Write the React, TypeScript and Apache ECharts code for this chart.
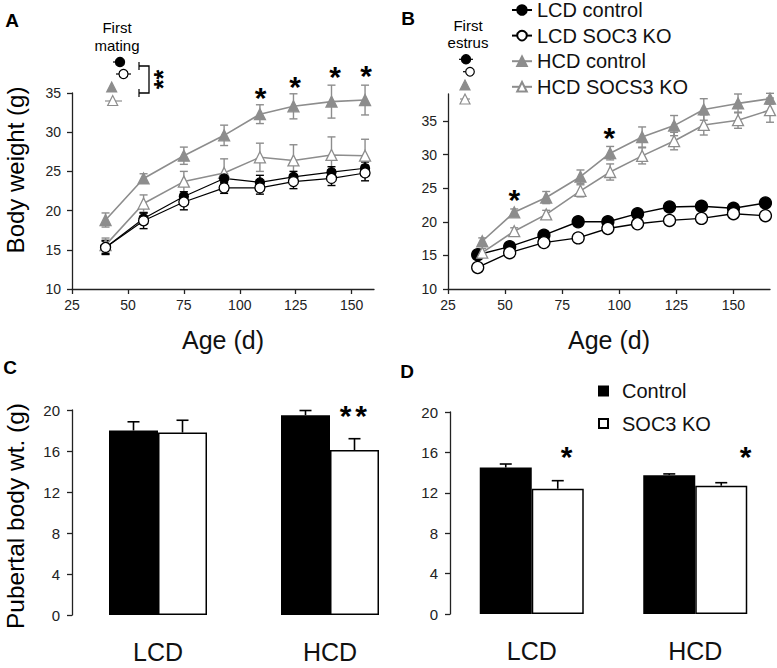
import React, { useEffect, useRef } from "react";
import * as echarts from "echarts";

// ---------- Panel A: body weight vs age (first mating) ----------
const A_AGE = [40, 57, 75, 93, 109, 124, 141, 156];
const A_LCD_CTRL = [15.3, 19.0, 21.8, 24.1, 23.6, 24.3, 24.9, 25.4];
const A_LCD_CTRL_ERR = [0.8, 0.7, 0.6, 0.6, 0.9, 0.7, 0.7, 0.8];
const A_LCD_KO = [15.3, 18.7, 21.1, 22.9, 22.9, 23.7, 24.1, 24.8];
const A_LCD_KO_ERR = [0.9, 1.0, 1.0, 0.7, 0.8, 0.9, 0.9, 1.0];
const A_HCD_CTRL = [18.8, 24.1, 27.0, 29.6, 32.3, 33.3, 33.9, 34.1];
const A_HCD_CTRL_ERR = [0.9, 0.6, 1.1, 1.3, 1.2, 1.6, 2.1, 1.9];
const A_HCD_KO = [15.6, 20.9, 23.7, 24.8, 26.8, 26.4, 27.1, 27.0];
const A_HCD_KO_ERR = [0.9, 1.1, 1.3, 1.8, 1.8, 2.0, 2.3, 2.1];

// ---------- Panel B: body weight vs age (first estrus) ----------
const B_LCD_AGE = [38, 52, 67, 82, 95, 108, 122, 136, 150, 164];
const B_LCD_CTRL = [15.1, 16.3, 18.0, 20.0, 20.0, 21.2, 22.2, 22.3, 22.0, 22.8];
const B_LCD_KO = [13.2, 15.4, 16.9, 17.6, 19.0, 19.7, 20.2, 20.5, 21.2, 20.9];
const B_HCD_AGE = [40, 54, 68, 83, 96, 110, 124, 137, 152, 166];
const B_HCD_CTRL = [17.1, 21.4, 23.6, 26.7, 30.2, 32.6, 34.3, 36.7, 37.6, 38.3];
const B_HCD_CTRL_ERR = [0.5, 0.5, 0.9, 1.0, 1.0, 1.5, 1.5, 1.6, 1.4, 0.8];
const B_HCD_KO = [15.4, 18.6, 21.1, 24.6, 27.4, 29.8, 32.0, 34.4, 35.1, 36.6];
const B_HCD_KO_ERR = [0.6, 0.5, 0.6, 0.9, 1.2, 1.2, 1.3, 1.5, 1.2, 1.8];

const AGE_TICKS = [25, 50, 75, 100, 125, 150];
const B_WEIGHT_TICKS = [10, 15, 20, 25, 30, 35];

// ---------- Panels C & D: pubertal body weight ----------
const DIETS = ["LCD", "HCD"];
const C_CTRL = [18.0, 19.5];
const C_CTRL_ERR = [0.85, 0.45];
const C_KO = [17.8, 16.1];
const C_KO_ERR = [1.2, 1.1];
const D_CTRL = [14.5, 13.75];
const D_CTRL_ERR = [0.35, 0.12];
const D_KO = [12.4, 12.7];
const D_KO_ERR = [0.8, 0.3];

const SERIES_NAMES = ["LCD control", "LCD SOC3 KO", "HCD control", "HCD SOCS3 KO"];
const BAR_NAMES = ["Control", "SOC3 KO"];

const FONT = "'Liberation Sans', Arial, Helvetica, sans-serif";
const GRAY = "#8d8d8d";
const INK = "#111";
const BW_C = 49;
const BW_D = 52;

function pairs(xs: number[], ys: number[]) {
  return xs.map((x, i) => [x, ys[i]]);
}
function triples(xs: number[], ys: number[], es: number[]) {
  return xs.map((x, i) => [x, ys[i], es[i]]);
}

function errRender(color: string, cap: number) {
  return (_p: any, api: any) => {
    const x = api.value(0);
    const y = api.value(1);
    const e = api.value(2);
    const hi = api.coord([x, y + e]);
    const lo = api.coord([x, y - e]);
    const st = { stroke: color, lineWidth: 1.4 };
    return {
      type: "group",
      children: [
        { type: "line", shape: { x1: hi[0], y1: hi[1], x2: lo[0], y2: lo[1] }, style: st },
        { type: "line", shape: { x1: hi[0] - cap, y1: hi[1], x2: hi[0] + cap, y2: hi[1] }, style: st },
        { type: "line", shape: { x1: lo[0] - cap, y1: lo[1], x2: lo[0] + cap, y2: lo[1] }, style: st },
      ],
    };
  };
}

function barErrRender(bw: number) {
  return (_p: any, api: any) => {
    const i = api.value(0);
    const v = api.value(1);
    const e = api.value(2);
    const side = api.value(3);
    const base = api.coord([i, v]);
    const top = api.coord([i, v + e]);
    const x = base[0] + (side * bw) / 2;
    const st = { stroke: "#000", lineWidth: 1.6 };
    return {
      type: "group",
      children: [
        { type: "line", shape: { x1: x, y1: base[1], x2: x, y2: top[1] }, style: st },
        { type: "line", shape: { x1: x - 6, y1: top[1], x2: x + 6, y2: top[1] }, style: st },
      ],
    };
  };
}

function barErrData(vals: number[], errs: number[], side: number) {
  return vals.map((v, i) => [i, v, errs[i], side]);
}

const axisLineStyle = { lineStyle: { color: "#222", width: 1.3 } };
const tickStyle = { length: 5, lineStyle: { color: "#222", width: 1.3 } };
const labelStyle = { color: "#222", fontSize: 14, fontFamily: FONT };

function txt(text: string, x: number, y: number, size: number, extra: any = {}) {
  return {
    type: "text",
    x,
    y,
    style: {
      text,
      fontSize: size,
      fontFamily: FONT,
      fill: "#000",
      align: "center",
      verticalAlign: "middle",
      ...(extra.style || {}),
    },
    ...(extra.el || {}),
  };
}

function star(x: number, y: number, size = 30) {
  // asterisk glyph sits high in the em box; shift down so its centre lands at y
  return txt("*", x, y + size * 0.2, size, { style: { fontWeight: "bold" } });
}

function tri(cx: number, cy: number, s: number, fill: string, stroke: string) {
  const h = s * 0.9;
  return {
    type: "polygon",
    shape: {
      points: [
        [cx, cy - h / 2 - 1],
        [cx - s / 2, cy + h / 2],
        [cx + s / 2, cy + h / 2],
      ],
    },
    style: { fill, stroke, lineWidth: 1.2 },
  };
}
function seg(x1: number, y1: number, x2: number, y2: number, color = "#000") {
  return { type: "line", shape: { x1, y1, x2, y2 }, style: { stroke: color, lineWidth: 1.2 } };
}
function dot(cx: number, cy: number, r: number, fill: string, stroke: string) {
  return { type: "circle", shape: { cx, cy, r }, style: { fill, stroke, lineWidth: 1.2 } };
}

export default function App() {
  const ref = useRef<HTMLDivElement>(null);

  useEffect(() => {
    if (!ref.current) return;
    const chart = echarts.init(ref.current, undefined, { renderer: "svg" });

    const lineSeries = (
      name: string,
      xi: number,
      xs: number[],
      ys: number[],
      color: string,
      symbol: string,
      size: number,
      filled: boolean,
      lw: number
    ) => ({
      type: "line",
      name,
      xAxisIndex: xi,
      yAxisIndex: xi,
      data: pairs(xs, ys),
      symbol,
      symbolSize: size,
      showAllSymbol: true,
      lineStyle: { color, width: lw },
      itemStyle: { color: filled ? color : "#fff", borderColor: color, borderWidth: 1.3 },
      z: 5,
    });

    const errSeries = (xi: number, xs: number[], ys: number[], es: number[], color: string) => ({
      type: "custom",
      name: "err",
      xAxisIndex: xi,
      yAxisIndex: xi,
      coordinateSystem: "cartesian2d",
      clip: false,
      data: triples(xs, ys, es),
      encode: { x: 0, y: 1 },
      renderItem: errRender(color, 4),
      z: 3,
    });

    const option: any = {
      animation: false,
      backgroundColor: "#fff",
      textStyle: { fontFamily: FONT },
      grid: [
        { left: 72, top: 93, width: 302, height: 196 },
        { left: 448, top: 94, width: 322, height: 195 },
        { left: 72, top: 410, width: 344, height: 205 },
        { left: 450, top: 412, width: 360, height: 202 },
      ],
      xAxis: [
        {
          type: "value",
          gridIndex: 0,
          min: 25,
          max: 160,
          axisLine: axisLineStyle,
          axisTick: { ...tickStyle, customValues: AGE_TICKS },
          axisLabel: { ...labelStyle, margin: 9, customValues: AGE_TICKS },
          splitLine: { show: false },
          name: "Age (d)",
          nameLocation: "middle",
          nameGap: 38,
          nameTextStyle: { fontSize: 25, color: INK, fontFamily: FONT },
        },
        {
          type: "value",
          gridIndex: 1,
          min: 25,
          max: 166,
          axisLine: axisLineStyle,
          axisTick: { ...tickStyle, customValues: AGE_TICKS },
          axisLabel: { ...labelStyle, margin: 9, customValues: AGE_TICKS },
          splitLine: { show: false },
          name: "Age (d)",
          nameLocation: "middle",
          nameGap: 38,
          nameTextStyle: { fontSize: 25, color: INK, fontFamily: FONT },
        },
        {
          type: "category",
          gridIndex: 2,
          data: DIETS,
          axisLine: { show: false },
          axisTick: { show: false },
          axisLabel: { color: INK, fontSize: 25, fontFamily: FONT, margin: 24 },
        },
        {
          type: "category",
          gridIndex: 3,
          data: DIETS,
          axisLine: { show: false },
          axisTick: { show: false },
          axisLabel: { color: INK, fontSize: 25, fontFamily: FONT, margin: 24 },
        },
      ],
      yAxis: [
        {
          type: "value",
          gridIndex: 0,
          min: 10,
          max: 35,
          interval: 5,
          axisLine: { show: true, ...axisLineStyle },
          axisTick: { show: true, ...tickStyle },
          axisLabel: { ...labelStyle, margin: 11 },
          splitLine: { show: false },
        },
        {
          type: "value",
          gridIndex: 1,
          min: 10,
          max: 39,
          axisLine: { show: true, ...axisLineStyle },
          axisTick: { show: true, ...tickStyle, customValues: B_WEIGHT_TICKS },
          axisLabel: { ...labelStyle, margin: 11, customValues: B_WEIGHT_TICKS },
          splitLine: { show: false },
        },
        {
          type: "value",
          gridIndex: 2,
          min: 0,
          max: 20,
          interval: 4,
          axisLine: { show: true, ...axisLineStyle },
          axisTick: { show: true, ...tickStyle },
          axisLabel: { ...labelStyle, fontSize: 15, margin: 12 },
          splitLine: { show: false },
        },
        {
          type: "value",
          gridIndex: 3,
          min: 0,
          max: 20,
          interval: 4,
          axisLine: { show: true, ...axisLineStyle },
          axisTick: { show: true, ...tickStyle },
          axisLabel: { ...labelStyle, fontSize: 15, margin: 12 },
          splitLine: { show: false },
        },
      ],
      legend: [
        {
          data: SERIES_NAMES,
          orient: "vertical",
          left: 511,
          top: 0,
          padding: 0,
          itemWidth: 20,
          itemHeight: 12,
          itemGap: 5.6,
          selectedMode: false,
          textStyle: { fontSize: 20, lineHeight: 20, color: INK, fontFamily: FONT },
        },
        {
          data: BAR_NAMES.map((n) => ({ name: n, icon: "rect" })),
          orient: "vertical",
          left: 598,
          top: 381,
          padding: 0,
          itemWidth: 9,
          itemHeight: 9,
          itemGap: 12.5,
          selectedMode: false,
          textStyle: { fontSize: 20, lineHeight: 20, color: INK, fontFamily: FONT, padding: [0, 0, 0, 9] },
        },
      ],
      series: [
        // Panel B
        errSeries(1, B_HCD_AGE, B_HCD_CTRL, B_HCD_CTRL_ERR, GRAY),
        errSeries(1, B_HCD_AGE, B_HCD_KO, B_HCD_KO_ERR, GRAY),
        lineSeries(SERIES_NAMES[0], 1, B_LCD_AGE, B_LCD_CTRL, "#000", "circle", 12, true, 1.4),
        lineSeries(SERIES_NAMES[1], 1, B_LCD_AGE, B_LCD_KO, "#000", "circle", 12, false, 1.4),
        lineSeries(SERIES_NAMES[2], 1, B_HCD_AGE, B_HCD_CTRL, GRAY, "triangle", 11, true, 1.6),
        lineSeries(SERIES_NAMES[3], 1, B_HCD_AGE, B_HCD_KO, GRAY, "triangle", 11, false, 1.6),
        // Panel A
        errSeries(0, A_AGE, A_HCD_CTRL, A_HCD_CTRL_ERR, GRAY),
        errSeries(0, A_AGE, A_HCD_KO, A_HCD_KO_ERR, GRAY),
        errSeries(0, A_AGE, A_LCD_CTRL, A_LCD_CTRL_ERR, "#000"),
        errSeries(0, A_AGE, A_LCD_KO, A_LCD_KO_ERR, "#000"),
        lineSeries(SERIES_NAMES[2], 0, A_AGE, A_HCD_CTRL, GRAY, "triangle", 11, true, 1.6),
        lineSeries(SERIES_NAMES[3], 0, A_AGE, A_HCD_KO, GRAY, "triangle", 11, false, 1.6),
        lineSeries(SERIES_NAMES[0], 0, A_AGE, A_LCD_CTRL, "#000", "circle", 9, true, 1.2),
        lineSeries(SERIES_NAMES[1], 0, A_AGE, A_LCD_KO, "#000", "circle", 10, false, 1.2),
        // Panel C
        {
          type: "bar",
          name: BAR_NAMES[0],
          xAxisIndex: 2,
          yAxisIndex: 2,
          data: C_CTRL,
          barWidth: BW_C,
          barGap: "0%",
          itemStyle: { color: "#000", borderColor: "#000", borderWidth: 1.5 },
        },
        {
          type: "bar",
          name: BAR_NAMES[1],
          xAxisIndex: 2,
          yAxisIndex: 2,
          data: C_KO,
          barWidth: BW_C,
          barGap: "0%",
          itemStyle: { color: "#fff", borderColor: "#000", borderWidth: 1.5 },
        },
        {
          type: "custom",
          name: "errC",
          xAxisIndex: 2,
          yAxisIndex: 2,
          coordinateSystem: "cartesian2d",
          clip: false,
          data: [...barErrData(C_CTRL, C_CTRL_ERR, -1), ...barErrData(C_KO, C_KO_ERR, 1)],
          encode: { x: 0, y: 1 },
          renderItem: barErrRender(BW_C),
          z: 4,
        },
        // Panel D
        {
          type: "bar",
          name: BAR_NAMES[0],
          xAxisIndex: 3,
          yAxisIndex: 3,
          data: D_CTRL,
          barWidth: BW_D,
          barGap: "0%",
          itemStyle: { color: "#000", borderColor: "#000", borderWidth: 1.5 },
        },
        {
          type: "bar",
          name: BAR_NAMES[1],
          xAxisIndex: 3,
          yAxisIndex: 3,
          data: D_KO,
          barWidth: BW_D,
          barGap: "0%",
          itemStyle: { color: "#fff", borderColor: "#000", borderWidth: 1.5 },
        },
        {
          type: "custom",
          name: "errD",
          xAxisIndex: 3,
          yAxisIndex: 3,
          coordinateSystem: "cartesian2d",
          clip: false,
          data: [...barErrData(D_CTRL, D_CTRL_ERR, -1), ...barErrData(D_KO, D_KO_ERR, 1)],
          encode: { x: 0, y: 1 },
          renderItem: barErrRender(BW_D),
          z: 4,
        },
      ],
      graphic: [
        // panel letters
        txt("A", 12, 20, 19, { style: { fontWeight: "bold" } }),
        txt("B", 408, 18, 19, { style: { fontWeight: "bold" } }),
        txt("C", 10, 367, 19, { style: { fontWeight: "bold" } }),
        txt("D", 407, 371, 19, { style: { fontWeight: "bold" } }),
        // y-axis titles
        txt("Body weight (g)", 15, 170, 24, { el: { rotation: Math.PI / 2 } }),
        txt("Pubertal body wt. (g)", 15, 516, 24.5, { el: { rotation: Math.PI / 2 } }),
        // First mating key
        txt("First", 117, 27, 15),
        txt("mating", 117, 45, 15),
        seg(113, 62, 120, 62),
        dot(120, 62, 4.6, "#000", "#000"),
        seg(116, 74, 131, 74),
        dot(123.5, 74, 4.5, "#fff", "#000"),
        tri(111.7, 87.5, 10, GRAY, GRAY),
        seg(105, 101, 122, 101, GRAY),
        tri(112.7, 101, 10, "#fff", GRAY),
        {
          type: "polyline",
          shape: { points: [[139, 66], [149, 66], [149, 93], [139, 93]] },
          style: { stroke: "#000", lineWidth: 1.3, fill: "none" },
        },
        seg(139, 62, 139, 70),
        seg(139, 89, 139, 97),
        // stacked pair of asterisks, drawn as one vertical "**"
        txt("**", 163, 79.5, 25, { style: { fontWeight: "bold" }, el: { rotation: Math.PI / 2 } }),
        // First estrus key
        txt("First", 468, 25, 15),
        txt("estrus", 468, 42, 15),
        seg(459, 59.3, 473, 59.3),
        dot(466, 59.3, 4.6, "#000", "#000"),
        seg(463, 71.7, 467, 71.7),
        dot(470, 71.7, 4.3, "#fff", "#000"),
        tri(465, 85.5, 10, GRAY, GRAY),
        seg(460, 99, 470, 99, GRAY),
        tri(465, 99.5, 10, "#fff", GRAY),
        // significance asterisks
        star(260.7, 91.7),
        star(295, 80),
        star(335, 70),
        star(366, 69),
        star(514.3, 193.3),
        star(609.3, 131.7),
        star(345.5, 409.3),
        star(361, 409.3),
        star(566.7, 450),
        star(745.7, 450),
      ],
    };

    chart.setOption(option);
    return () => chart.dispose();
  }, []);

  return (
    <div
      ref={ref}
      style={{ position: "fixed", left: 0, top: 0, width: 777, height: 668, background: "#fff" }}
    />
  );
}
